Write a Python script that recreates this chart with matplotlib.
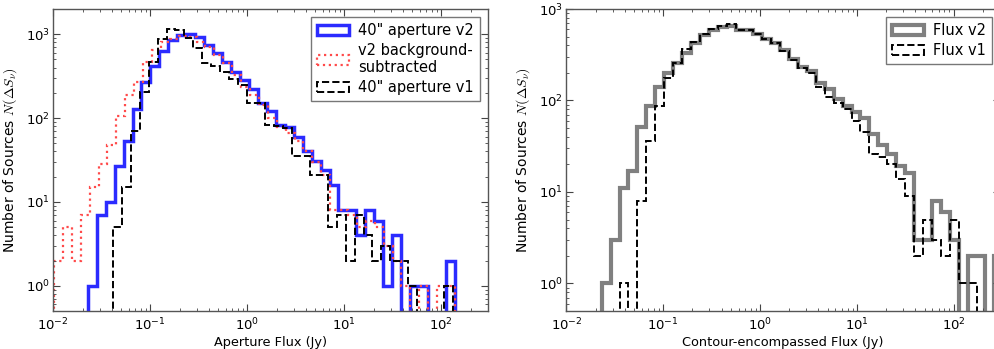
import numpy as np
import matplotlib
matplotlib.use("Agg")
import matplotlib.pyplot as plt
from matplotlib.patches import Patch
from matplotlib.ticker import LogLocator, NullFormatter

# ---------------- data (log10 of first/last bin edge in Jy, counts per bin) ----------------
# Left panel: 40" aperture fluxes
v2_ap_range = (-1.645, 2.139)
v2_ap_counts = [1, 7, 10, 27, 53, 128, 268, 420, 635, 845, 970, 1000, 920, 745, 594,
                472, 359, 288, 223, 151, 120, 82, 79, 59, 41, 31, 24, 16, 8, 8,
                4, 8, 6, 1, 4, 0, 1, 1, 0, 0, 2]
bgsub_range = (-1.993, 2.139)
bgsub_counts = [2, 5, 2, 7, 15, 28, 48, 107, 189, 268, 472, 650, 817, 870, 940,
                920, 817, 712, 567, 452, 328, 238, 189, 144, 100, 79, 66, 53, 40, 30,
                21, 8, 8, 7, 5, 6, 5, 3, 2, 1, 0, 1, 0, 1, 1]
v1_ap_range = (-1.387, 2.120)
v1_ap_counts = [5, 15, 71, 204, 472, 880, 1147, 1110, 900, 680, 460, 420, 350, 290, 245,
                151, 151, 83, 80, 76, 35, 35, 21, 21, 5, 7, 2, 7, 4, 2,
                3, 2, 2, 1, 0, 0, 0, 1]

# Right panel: contour-encompassed fluxes (shared bins)
contour_range = (-1.636, 2.511)
flux_v2_counts = [1, 3, 11, 17, 51, 86, 141, 202, 260, 330, 425, 515, 590, 630, 655,
                  595, 590, 535, 475, 425, 355, 285, 235, 210, 155, 135, 105, 88, 75, 64,
                  43, 33, 26, 19, 16, 3, 3, 8, 6, 3, 0, 2, 2, 0, 2]
flux_v1_counts = [0, 0, 1, 0, 8, 36, 88, 177, 255, 366, 440, 530, 605, 655, 685,
                  595, 590, 530, 470, 420, 350, 275, 225, 200, 140, 110, 95, 80, 60, 45,
                  26, 24, 20, 14, 9, 2, 5, 3, 2, 5, 1, 1, 0, 0, 0]

left_labels = ['40" aperture v2', 'v2 background-\nsubtracted', '40" aperture v1']
right_labels = ['Flux v2', 'Flux v1']


def edges(rng, counts):
    return np.logspace(rng[0], rng[1], len(counts) + 1)


plt.rcParams['font.family'] = ['DejaVu Sans']
plt.rcParams['mathtext.fontset'] = 'cm'
plt.rcParams['mathtext.default'] = 'it'

W, H = 995, 349
fig = plt.figure(figsize=(W / 100, H / 100), dpi=100)
fig.patch.set_facecolor('white')

ax1 = fig.add_axes([53.3 / W, 1 - 311 / H, 434.4 / W, 302 / H])
ax2 = fig.add_axes([566.4 / W, 1 - 311 / H, 433.6 / W, 302 / H])

for ax in (ax1, ax2):
    ax.set_xscale('log')
    ax.set_yscale('log')

styles_left = [dict(color='#2b2bff', lw=2.5, ls='-'),
               dict(color='#ff4a4a', lw=1.6, ls=':'),
               dict(color='black', lw=1.4, ls='--')]
styles_right = [dict(color='#808080', lw=3.0, ls='-'),
                dict(color='black', lw=1.4, ls='--')]

ax1.stairs(v2_ap_counts, edges(v2_ap_range, v2_ap_counts), baseline=0, **styles_left[0])
ax1.stairs(bgsub_counts, edges(bgsub_range, bgsub_counts), baseline=0, **styles_left[1])
ax1.stairs(v1_ap_counts, edges(v1_ap_range, v1_ap_counts), baseline=0, **styles_left[2])

ax2.stairs(flux_v2_counts, edges(contour_range, flux_v2_counts), baseline=0, **styles_right[0])
ax2.stairs(flux_v1_counts, edges(contour_range, flux_v1_counts), baseline=0, **styles_right[1])

ax1.set_xlim(0.01, 300)
ax1.set_ylim(0.5, 2000)
ax2.set_xlim(0.01, 300)
ax2.set_ylim(0.5, 1000)

ax1.set_xlabel('Aperture Flux (Jy)', fontsize=9.3, labelpad=2)
ax2.set_xlabel('Contour-encompassed Flux (Jy)', fontsize=9.3, labelpad=2)
for ax in (ax1, ax2):
    ax.set_ylabel(r'Number of Sources $N(\Delta S_\nu)$', fontsize=10, labelpad=5)
    ax.xaxis.set_major_locator(LogLocator(base=10, numticks=20))
    ax.xaxis.set_minor_locator(LogLocator(base=10, subs=np.arange(2, 10), numticks=20))
    ax.yaxis.set_major_locator(LogLocator(base=10, numticks=20))
    ax.yaxis.set_minor_locator(LogLocator(base=10, subs=np.arange(2, 10), numticks=20))
    ax.xaxis.set_minor_formatter(NullFormatter())
    ax.yaxis.set_minor_formatter(NullFormatter())
    ax.tick_params(which='both', direction='in', top=True, right=True,
                   labelsize=9.5, color='#444444')
    ax.tick_params(which='major', length=5, width=0.8)
    ax.tick_params(axis='x', which='major', pad=4)
    ax.tick_params(axis='y', which='major', pad=2.5)
    ax.tick_params(which='minor', length=2.5, width=0.6)
    for s in ax.spines.values():
        s.set_color('#555555')
        s.set_linewidth(1.0)


def handles(styles):
    return [Patch(facecolor='none', edgecolor=s['color'], linewidth=s['lw'],
                  linestyle=s['ls']) for s in styles]


leg_kw = dict(loc='upper right', fontsize=10.5, fancybox=False,
              handlelength=2.2, handleheight=0.65, handletextpad=0.6, borderpad=0.4,
              labelspacing=0.35, borderaxespad=0.55)
leg1 = ax1.legend(handles(styles_left), left_labels, **leg_kw)
leg2 = ax2.legend(handles(styles_right), right_labels, **leg_kw)
for lg in (leg1, leg2):
    lg.get_frame().set_edgecolor('#555555')
    lg.get_frame().set_linewidth(1.0)

fig.savefig('out.png', dpi=100, facecolor='white')
